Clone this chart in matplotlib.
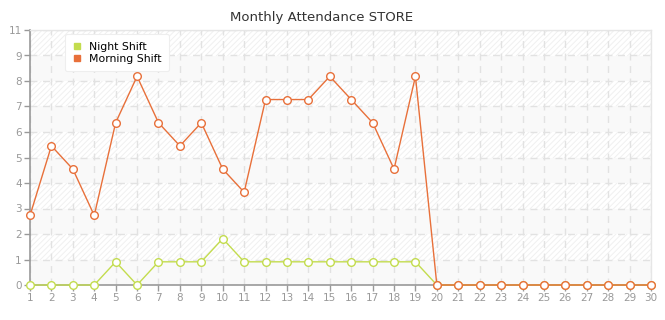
import math
import numpy as np
import matplotlib
matplotlib.use('Agg')
import matplotlib.pyplot as plt
import matplotlib.patches as patches

# ── Data ────────────────────────────────────────────────
days = list(range(1, 31))
night_shift = [0, 0, 0, 0, 1, 0, 1, 1, 1, 2, 1, 1, 1, 1, 1, 1, 1, 1, 1, 0,
               0, 0, 0, 0, 0, 0, 0, 0, 0, 0]
morning_shift = [3, 6, 5, 3, 7, 9, 7, 6, 7, 5, 4, 8, 8, 8, 9, 8, 7, 5, 9, 0,
                 0, 0, 0, 0, 0, 0, 0, 0, 0, 0]
y_max = 11
y_step = 1.1

# ── Colors ──────────────────────────────────────────────
COLOR_NIGHT   = '#c3dc4e'
COLOR_MORNING = '#e8703a'
COLOR_GRID    = '#e2e2e2'
COLOR_TICK    = '#999999'
COLOR_HATCH   = '#f0f0f0'
COLOR_BAND    = '#f9f9f9'

plt.rcParams['font.family'] = ['DejaVu Sans']
plt.rcParams['hatch.linewidth'] = 0.7

fig = plt.figure(figsize=(6.65, 3.2), dpi=100)
ax = fig.add_axes([30 / 665, 1 - 285 / 320, 621 / 665, 255 / 320])

ax.set_xlim(days[0], days[-1])
ax.set_ylim(0, y_max)

# ── Alternating bands ───────────────────────────────────
ticks = np.arange(0, y_max + 0.01, y_step)
for i in range(len(ticks) - 1):
    lo, hi = ticks[i], ticks[i + 1]
    if i % 2 == 1:
        rect = patches.Rectangle((days[0], lo), days[-1] - days[0], hi - lo,
                                 facecolor='white', edgecolor=COLOR_HATCH,
                                 hatch='//////', linewidth=0, zorder=0)
    else:
        rect = patches.Rectangle((days[0], lo), days[-1] - days[0], hi - lo,
                                 facecolor=COLOR_BAND, edgecolor='none',
                                 linewidth=0, zorder=0)
    ax.add_patch(rect)

# ── Grid ────────────────────────────────────────────────
ax.set_axisbelow(True)
ax.grid(True, color=COLOR_GRID, linestyle=(0, (5, 4)), linewidth=1, zorder=1)

# ── Series ──────────────────────────────────────────────
ax.plot(days, night_shift, color=COLOR_NIGHT, linewidth=1, marker='o',
        markersize=5.5, markerfacecolor='white', markeredgecolor=COLOR_NIGHT,
        markeredgewidth=1, label='Night Shift', zorder=3, clip_on=False)
ax.plot(days, morning_shift, color=COLOR_MORNING, linewidth=1, marker='o',
        markersize=5.5, markerfacecolor='white', markeredgecolor=COLOR_MORNING,
        markeredgewidth=1, label='Morning Shift', zorder=4, clip_on=False)

# ── Axes ────────────────────────────────────────────────
ax.set_xticks(days)
ax.set_xticklabels([str(d) for d in days])
ax.set_yticks(ticks)
ax.set_yticklabels([str(math.floor(t + 1e-9)) for t in ticks])
ax.tick_params(axis='both', colors=COLOR_TICK, labelsize=7.5, length=4,
               width=1, labelcolor=COLOR_TICK)
ax.tick_params(axis='x', pad=2)
ax.tick_params(axis='y', pad=2)

for side in ['left', 'bottom']:
    ax.spines[side].set_color('#999999')
    ax.spines[side].set_linewidth(1.2)
for side in ['top', 'right']:
    ax.spines[side].set_color('#e6e6e6')
    ax.spines[side].set_linewidth(1)

# ── Title ───────────────────────────────────────────────
fig.text(322 / 665, 1 - 17 / 320, 'Monthly Attendance STORE', ha='center',
         va='center', fontsize=9.5, color='#333333')

# ── Legend ──────────────────────────────────────────────
handles = [
    plt.Line2D([], [], linestyle='none', marker='s', markersize=4.5,
               color=COLOR_NIGHT, label='Night Shift'),
    plt.Line2D([], [], linestyle='none', marker='s', markersize=4.5,
               color=COLOR_MORNING, label='Morning Shift'),
]
leg = ax.legend(handles=handles, loc='upper left',
                bbox_to_anchor=(35 / 621, 1 - 4 / 255), fontsize=7.8,
                frameon=True, fancybox=True, framealpha=1, edgecolor='#eeeeee',
                handlelength=0.8, handletextpad=0.7, labelspacing=0.2,
                borderpad=0.7, borderaxespad=0)
leg.get_frame().set_linewidth(0.8)
leg.set_zorder(10)

fig.savefig('out.png', dpi=100)
